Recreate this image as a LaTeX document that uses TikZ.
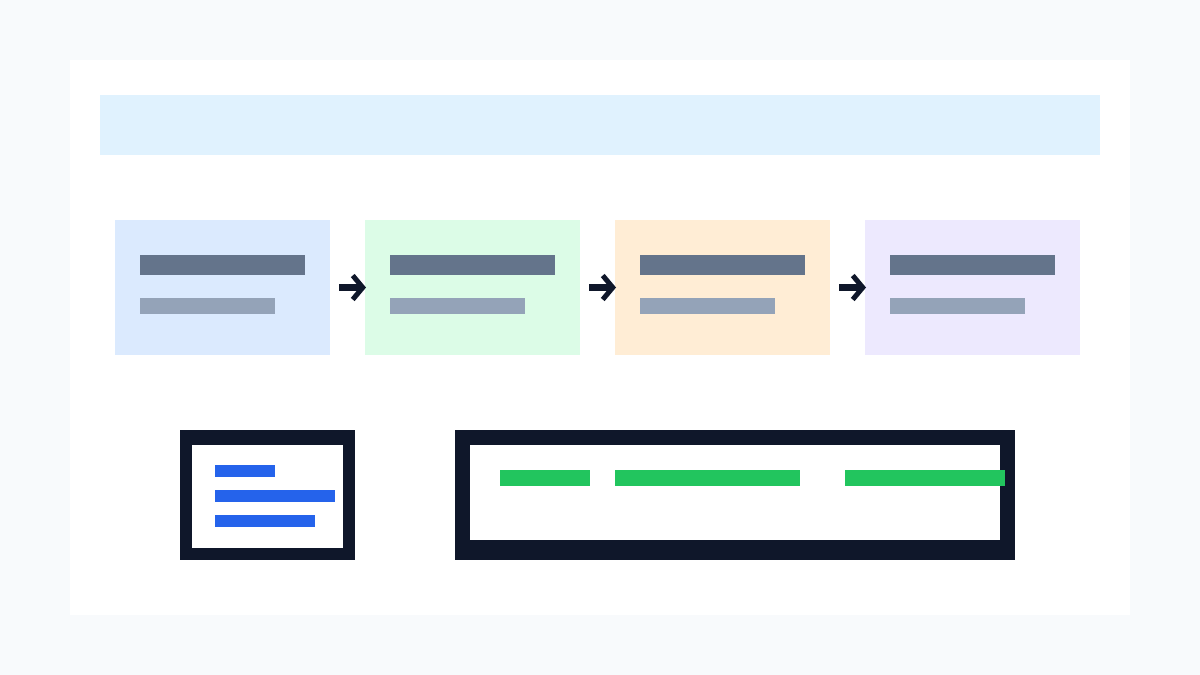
\documentclass[tikz,border=0pt]{standalone}
\usetikzlibrary{positioning,arrows.meta}
\definecolor{fondo}{HTML}{F8FAFC}
\definecolor{cielo}{HTML}{E0F2FE}
\definecolor{azulc}{HTML}{DBEAFE}
\definecolor{verdec}{HTML}{DCFCE7}
\definecolor{naranjac}{HTML}{FFEDD5}
\definecolor{lilac}{HTML}{EDE9FE}
\definecolor{pizarra}{HTML}{64748B}
\definecolor{pizarrac}{HTML}{94A3B8}
\definecolor{tinta}{HTML}{0F172A}
\definecolor{azul}{HTML}{2563EB}
\definecolor{verde}{HTML}{22C55E}

\begin{document}
\begin{tikzpicture}[x=1pt, y=-1pt, >={Straight Barb[length=10pt, width=24pt, line width=5pt]},
      blk/.style={rectangle, inner sep=0pt, outer sep=0pt},
      card/.style={blk, minimum width=215pt, minimum height=135pt},
      flecha/.style={->, tinta, line width=7pt, shorten <=9pt, shorten >=-1pt}]
    \fill[fondo] (0,0) rectangle (1200,675);
    \useasboundingbox (0,0) rectangle (1200,675);
    % panel
    \node[blk, fill=white, minimum width=1060pt, minimum height=555pt, anchor=north west] (panel) at (70,60) {};
    \node[blk, fill=cielo, minimum width=1000pt, minimum height=60pt,
          below right=35pt and 30pt of panel.north west] (head) {};
    % etapas
    \node[card, fill=azulc, below right=160pt and 45pt of panel.north west] (c1) {};
    \node[card, fill=verdec, right=35pt of c1] (c2) {};
    \node[card, fill=naranjac, right=35pt of c2] (c3) {};
    \node[card, fill=lilac, right=35pt of c3] (c4) {};
    \foreach \i in {1,...,4} {
      \node[blk, fill=pizarra, minimum width=165pt, minimum height=20pt,
            below right=35pt and 25pt of c\i.north west] (c\i t) {};
      \node[blk, fill=pizarrac, minimum width=135pt, minimum height=16pt,
            below right=23pt and 0pt of c\i t.south west] (c\i s) {};
    }
    \draw[flecha] (c1) -- (c2); \draw[flecha] (c2) -- (c3); \draw[flecha] (c3) -- (c4);
    % registro
    \node[blk, fill=tinta, minimum width=175pt, minimum height=130pt,
          below right=370pt and 110pt of panel.north west] (log) {};
    \node[blk, fill=white, minimum width=151pt, minimum height=103pt,
          below right=15pt and 12pt of log.north west] (login) {};
    \node[blk, fill=azul, minimum width=60pt, minimum height=12pt,
          below right=20pt and 23pt of login.north west] (l1) {};
    \node[blk, fill=azul, minimum width=120pt, minimum height=12pt,
          below right=13pt and 0pt of l1.south west] (l2) {};
    \node[blk, fill=azul, minimum width=100pt, minimum height=12pt,
          below right=13pt and 0pt of l2.south west] (l3) {};
    % linea de tiempo
    \node[blk, fill=tinta, minimum width=560pt, minimum height=130pt,
          right=100pt of log] (tl) {};
    \node[blk, fill=white, minimum width=530pt, minimum height=95pt,
          below right=15pt and 15pt of tl.north west] (tlin) {};
    \node[blk, fill=verde, minimum width=90pt, minimum height=16pt,
          below right=25pt and 30pt of tlin.north west] (g1) {};
    \node[blk, fill=verde, minimum width=185pt, minimum height=16pt,
          right=25pt of g1] (g2) {};
    \node[blk, fill=verde, minimum width=160pt, minimum height=16pt,
          right=45pt of g2] (g3) {};
  \end{tikzpicture}
\end{document}
